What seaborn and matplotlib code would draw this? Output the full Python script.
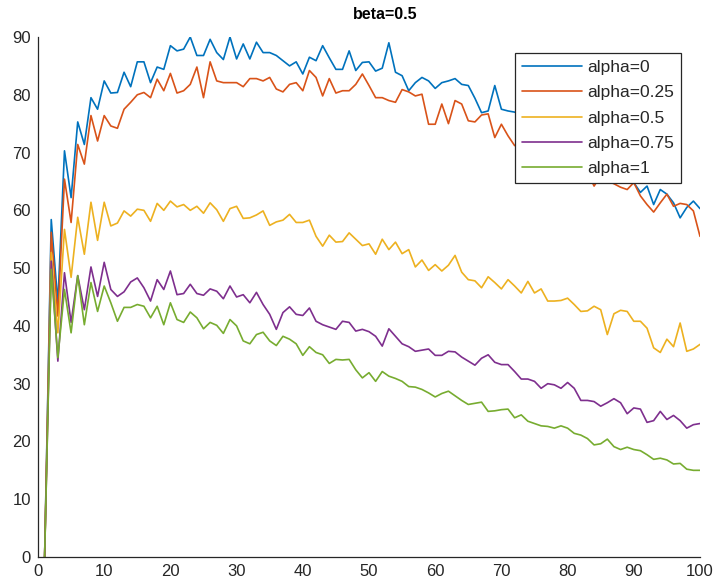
import numpy as np
import pandas as pd
import matplotlib
matplotlib.use("Agg")
import matplotlib.pyplot as plt
import seaborn as sns

x = list(range(1, 101))
labels = ["alpha=0", "alpha=0.25", "alpha=0.5", "alpha=0.75", "alpha=1"]
colors = ["#0072BD", "#D95319", "#EDB120", "#7E2F8E", "#77AC30"]

alpha_0 = [0, 58.4, 44, 70.3, 62.2, 75.3, 71.4, 79.5, 77.5, 82.4,
           80.3, 80.4, 83.9, 81.4, 85.7, 85.7, 82.1, 84.8, 84.4, 88.5,
           87.6, 87.9, 90.0, 86.8, 86.8, 89.6, 87.3, 86.1, 90.0, 86.2,
           88.8, 86.2, 89.1, 87.3, 87.3, 86.8, 85.9, 85.0, 85.7, 83.6,
           86.5, 85.9, 88.5, 86.4, 84.4, 84.4, 87.6, 84.2, 85.6, 85.7,
           84.1, 84.6, 89.0, 83.9, 83.3, 80.7, 82.1, 83.0, 82.4, 81.1,
           82.1, 82.4, 82.8, 81.8, 81.6, 79.4, 76.9, 77.2, 81.6, 77.5,
           77.2, 77.0, 76.5, 75.8, 76.8, 75.0, 74.2, 73.6, 74.5, 72.3,
           71.8, 70.6, 69.9, 68.2, 68.8, 67.1, 66.4, 66.9, 65.2, 64.8,
           63.1, 64.2, 61.0, 63.6, 62.8, 61.3, 58.7, 60.5, 61.6, 60.3]

alpha_025 = [0, 56.2, 41.7, 65.4, 57.9, 71.4, 68.0, 76.4, 72.0, 76.4,
             74.6, 74.2, 77.5, 78.7, 80.0, 80.4, 79.5, 82.7, 80.7, 83.7,
             80.3, 80.7, 81.8, 84.8, 79.5, 85.7, 82.4, 82.1, 82.1, 82.1,
             81.4, 82.8, 82.8, 82.4, 83.0, 81.0, 80.5, 81.8, 82.1, 80.7,
             84.2, 83.0, 79.8, 82.8, 80.3, 80.7, 80.7, 81.8, 83.6, 81.6,
             79.5, 79.5, 79.0, 78.7, 80.9, 80.5, 79.8, 80.1, 74.9, 74.9,
             78.4, 75.0, 79.0, 78.4, 75.5, 75.3, 76.5, 76.7, 72.6, 74.9,
             72.9, 71.2, 72.0, 70.4, 71.1, 69.8, 69.0, 69.6, 68.1, 68.4,
             67.0, 66.2, 66.6, 64.2, 66.0, 65.1, 64.6, 64.0, 63.6, 64.8,
             62.5, 61.0, 59.7, 61.3, 62.8, 60.7, 61.2, 61.0, 59.9, 55.5]

alpha_05 = [0, 52.7, 38.8, 56.7, 48.4, 58.8, 52.4, 61.4, 54.8, 61.4,
            57.3, 57.8, 59.9, 59.0, 60.2, 60.0, 58.1, 61.2, 60.0, 61.6,
            60.6, 61.0, 60.0, 60.7, 59.5, 61.3, 60.1, 58.1, 60.3, 60.7,
            58.6, 58.7, 59.2, 59.9, 57.4, 58.0, 58.3, 59.3, 57.9, 57.9,
            58.3, 55.5, 53.8, 55.7, 54.5, 54.6, 56.1, 55.0, 53.9, 54.2,
            52.4, 55.0, 53.2, 54.5, 52.5, 53.2, 50.2, 51.4, 49.6, 50.6,
            49.5, 50.5, 52.2, 49.3, 48.0, 47.8, 46.6, 48.5, 47.5, 46.4,
            48.0, 46.9, 45.7, 47.7, 45.7, 46.4, 44.3, 44.3, 44.4, 44.8,
            43.7, 42.5, 42.6, 43.4, 42.8, 38.5, 42.1, 42.7, 42.5, 40.8,
            40.8, 39.6, 36.2, 35.4, 37.7, 36.4, 40.5, 35.6, 36.0, 36.8]

alpha_075 = [0, 51.2, 33.9, 49.2, 40.6, 48.7, 42.8, 50.2, 45.1, 51.0,
             46.3, 45.1, 45.9, 47.6, 48.3, 46.6, 44.3, 48.0, 46.3, 49.5,
             45.4, 45.6, 47.2, 45.6, 45.3, 46.4, 46.0, 44.7, 46.9, 45.0,
             45.4, 44.0, 45.8, 43.7, 42.0, 39.4, 42.3, 43.3, 42.0, 41.8,
             43.1, 40.8, 40.2, 39.8, 39.4, 40.8, 40.6, 39.1, 39.4, 39.0,
             38.2, 36.5, 39.5, 38.2, 36.9, 36.4, 35.6, 35.8, 36.0, 34.9,
             34.9, 35.6, 35.5, 34.6, 33.9, 33.2, 34.4, 35.0, 33.7, 33.3,
             33.3, 32.1, 30.8, 30.8, 30.4, 29.2, 30.0, 29.8, 29.2, 30.2,
             29.2, 27.1, 27.1, 26.9, 26.1, 26.7, 27.4, 26.7, 24.8, 25.8,
             25.6, 23.3, 23.6, 25.2, 23.8, 24.5, 23.6, 22.3, 22.9, 23.1]

alpha_1 = [0, 49.8, 34.5, 46.3, 38.8, 48.7, 40.2, 47.5, 42.5, 46.9,
           44.0, 40.8, 43.2, 43.2, 43.7, 43.4, 41.4, 43.4, 40.2, 44.0,
           41.1, 40.6, 42.4, 41.4, 39.5, 40.6, 40.1, 38.7, 41.1, 40.0,
           37.4, 36.9, 38.5, 38.9, 37.4, 36.6, 38.2, 37.7, 36.9, 34.9,
           36.4, 35.4, 35.0, 33.5, 34.2, 34.1, 34.2, 32.4, 31.0, 31.9,
           30.4, 32.1, 31.3, 30.9, 30.4, 29.5, 29.4, 29.0, 28.4, 27.7,
           28.3, 28.7, 27.9, 27.1, 26.4, 26.6, 26.8, 25.2, 25.3, 25.5,
           25.6, 24.1, 24.6, 23.5, 23.1, 22.7, 22.6, 22.3, 22.7, 22.3,
           21.4, 21.1, 20.5, 19.4, 19.6, 20.4, 19.1, 18.6, 19.0, 18.6,
           18.4, 17.7, 16.9, 17.1, 16.8, 16.1, 16.2, 15.2, 15.0, 15.0]

x_ticks = list(range(0, 101, 10))
y_ticks = list(range(0, 91, 10))

series = [alpha_0, alpha_025, alpha_05, alpha_075, alpha_1]
frames = []
for lab, vals in zip(labels, series):
    frames.append(pd.DataFrame({"x": x, "value": vals, "series": lab}))
df = pd.concat(frames, ignore_index=True)

sns.set_style("white")
plt.rcParams["font.family"] = ["Liberation Sans", "DejaVu Sans"]

fig = plt.figure(figsize=(7.15, 5.88), dpi=100)
ax = fig.add_axes([38 / 715, 31 / 588, 662 / 715, 520 / 588])

sns.lineplot(data=df, x="x", y="value", hue="series", hue_order=labels,
             palette=dict(zip(labels, colors)), linewidth=1.2, ax=ax)

ax.set_xlim(0, 100)
ax.set_ylim(0, 90)
ax.set_xticks(x_ticks)
ax.set_yticks(y_ticks)
ax.set_xlabel("")
ax.set_ylabel("")
axc = "#262626"
for s in ["top", "right"]:
    ax.spines[s].set_visible(False)
for s in ["left", "bottom"]:
    ax.spines[s].set_color(axc)
    ax.spines[s].set_linewidth(0.9)
ax.tick_params(axis="both", direction="in", length=5, width=0.8, colors=axc,
               labelsize=12, pad=5)
ax.set_title("beta=0.5", fontsize=11.5, fontweight="bold", color="black",
             pad=13, x=0.524)

leg = ax.legend(loc="upper right", bbox_to_anchor=(0.971, 0.969), borderaxespad=0,
                fontsize=12.5, handlelength=3.45, labelspacing=0.58,
                frameon=True, fancybox=False, edgecolor=axc, framealpha=1,
                borderpad=0.4, handletextpad=0.3)
leg.get_frame().set_linewidth(0.9)
for t in leg.get_texts():
    t.set_color(axc)
for ln in leg.get_lines():
    ln.set_linewidth(1.2)

fig.savefig("out.png", dpi=100)
